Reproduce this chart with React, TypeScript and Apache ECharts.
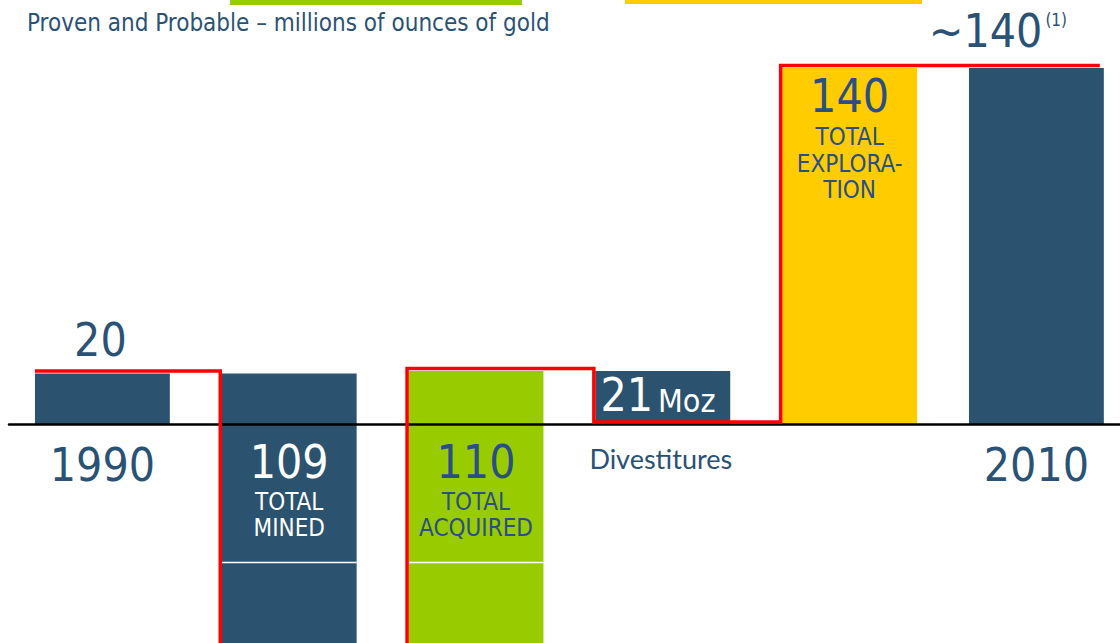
import React, { useEffect, useRef } from "react";
import * as echarts from "echarts";

// ---------- data ----------
const categories = ["1990", "Mined", "Acquired", "Divestitures", "Exploration", "2010"];
const changes = [20, -109, 110, -21, 140, 140];
const isTotal = [true, false, false, false, false, true];
const valueLabels = ["20", "109", "110", "21", "140", "~140"];
const captionLines: string[][] = [[], ["TOTAL", "MINED"], ["TOTAL", "ACQUIRED"], [], ["TOTAL", "EXPLORA-", "TION"], []];
const axisNames = ["1990", "", "", "Divestitures", "", "2010"];
const unitLabel = "Moz";
const footnoteMark = "(1)";
const breakLevel = -54;
const subtitle = "Proven and Probable \u2013 millions of ounces of gold";
const yMin = -100;
const yMax = 150;

// ---------- styles ----------
const DARK = "#2B526E";
const GREEN = "#99CC00";
const YELLOW = "#FFCC00";
const RED = "#FF0000";
const TEXT = "#2A5275";
const INNER_BLUE = "#2A4F85";
const FONT = "'DejaVu Sans Condensed', 'Liberation Sans', sans-serif";
const barColors = [DARK, DARK, GREEN, DARK, YELLOW, DARK];
const innerTextColors = ["", "#FFFFFF", INNER_BLUE, "#FFFFFF", INNER_BLUE, ""];
const BAR_FRAC = 0.722;
const NUM = 46;

// chart canvas is larger than the visible page; the page crops it
const CW = 1140;
const CH = 700;

// spans derived from the changes
const spans: number[][] = [];
const levels: number[] = [];
{
  let run = 0;
  changes.forEach((c, i) => {
    if (isTotal[i]) {
      spans.push([i, 0, c]);
      run = c;
    } else {
      spans.push([i, run, run + c]);
      run = run + c;
    }
    levels.push(run);
  });
}

function txt(x: number, y: number, text: string, size: number, fill: string, align = "center", family = FONT) {
  return {
    type: "text",
    x,
    y,
    z2: 10,
    style: { text, x: 0, y: 0, fill, fontSize: size, fontFamily: family, align, verticalAlign: "middle" },
  };
}

const option: any = {
  animation: false,
  backgroundColor: "#FFFFFF",
  grid: { left: 9, right: 10.2, top: 42.6, bottom: 20.9, containLabel: false },
  xAxis: {
    type: "category",
    data: categories,
    z: 5,
    axisLine: { show: true, onZero: true, lineStyle: { color: "#000000", width: 2.5 } },
    axisTick: { show: false },
    axisLabel: { show: false },
    splitLine: { show: false },
  },
  yAxis: {
    type: "value",
    min: yMin,
    max: yMax,
    axisLine: { show: false },
    axisTick: { show: false },
    axisLabel: { show: false },
    splitLine: { show: false },
  },
  graphic: [
    { type: "rect", left: 230, top: 0, shape: { width: 292, height: 5 }, style: { fill: GREEN } },
    { type: "rect", left: 625, top: 0, shape: { width: 297, height: 4 }, style: { fill: YELLOW } },
    {
      type: "text",
      x: 27,
      y: 23,
      style: { text: subtitle, fill: TEXT, fontSize: 24, fontFamily: FONT, verticalAlign: "middle", align: "left" },
    },
  ],
  series: [
    {
      type: "custom",
      z: 1,
      data: spans,
      encode: { x: 0, y: [1, 2] },
      renderItem: (params: any, api: any) => {
        const i = params.dataIndex;
        const start = api.value(1);
        const end = api.value(2);
        const band = api.size([1, 0])[0];
        const w = band * BAR_FRAC;
        const cx = api.coord([i, 0])[0];
        const zeroY = api.coord([i, 0])[1];
        const ya = api.coord([i, start])[1];
        const yb = api.coord([i, end])[1];
        const top = Math.min(ya, yb);
        const bottom = Math.max(ya, yb);
        const children: any[] = [
          { type: "rect", shape: { x: cx - w / 2, y: top, width: w, height: bottom - top }, style: { fill: barColors[i] } },
        ];
        const lo = Math.min(start, end);
        const hi = Math.max(start, end);
        if (!isTotal[i] && lo < breakLevel && hi > breakLevel && captionLines[i].length) {
          const by = Math.round(api.coord([i, breakLevel])[1]) + 0.5;
          children.push({
            type: "line",
            shape: { x1: cx - w / 2, y1: by, x2: cx + w / 2, y2: by },
            style: { stroke: "#FFFFFF", lineWidth: 1.5 },
          });
        }
        // axis name under the zero line
        if (axisNames[i]) {
          if (i === 3) children.push(txt(cx - 2, zeroY + 34, axisNames[i], 27, TEXT, "center", "Lato, 'Noto Sans', sans-serif"));
          else children.push(txt(cx, zeroY + 40, axisNames[i], NUM, TEXT));
        }
        const lab = valueLabels[i];
        if (i === 0) {
          children.push(txt(cx - 2, top - 34, lab, NUM, TEXT));
        } else if (i === 5) {
          children.push(txt(cx + 6, top - 37, lab, NUM, TEXT, "right"));
          children.push(txt(cx + 9, top - 48, footnoteMark, 17, TEXT, "left"));
        } else if (i === 3) {
          children.push(txt(cx - 36, zeroY - 30, lab, NUM, innerTextColors[i]));
          children.push(txt(cx + 24, zeroY - 24, unitLabel, 32, innerTextColors[i]));
        } else if (i === 4) {
          children.push(txt(cx, top + 28, lab, NUM, innerTextColors[i]));
          captionLines[i].forEach((line, k) => {
            children.push(txt(cx, top + 69 + k * 26.5, line, 24, innerTextColors[i]));
          });
        } else {
          children.push(txt(cx, zeroY + 37, lab, NUM, innerTextColors[i]));
          captionLines[i].forEach((line, k) => {
            children.push(txt(cx, zeroY + 77.5 + k * 26, line, 24, innerTextColors[i]));
          });
        }
        return { type: "group", children };
      },
    },
    {
      type: "custom",
      z: 10,
      data: [[0, levels[0]]],
      encode: { x: 0, y: 1 },
      renderItem: (params: any, api: any) => {
        const band = api.size([1, 0])[0];
        const w = band * BAR_FRAC;
        const left = (k: number) => api.coord([k, 0])[0] - w / 2;
        const right = (k: number) => api.coord([k, 0])[0] + w / 2;
        const yOf = (v: number) => api.coord([0, v])[1] - 2.5;
        const pts: number[][] = [[left(0), yOf(levels[0])]];
        for (let k = 1; k < categories.length; k++) {
          if (isTotal[k]) {
            pts.push([right(k) - 4, yOf(levels[k - 1])]);
          } else {
            pts.push([left(k) - 1.5, yOf(levels[k - 1])]);
            pts.push([left(k) - 1.5, yOf(levels[k])]);
          }
        }
        return {
          type: "polyline",
          shape: { points: pts },
          style: { stroke: RED, lineWidth: 3.5, fill: "none", lineJoin: "miter" },
        };
      },
    },
  ],
};

export default function App() {
  const ref = useRef<HTMLDivElement>(null);
  useEffect(() => {
    document.body.style.margin = "0";
    document.body.style.overflow = "hidden";
    const chart = echarts.init(ref.current as HTMLDivElement, null, { renderer: "svg" });
    chart.setOption(option);
    return () => chart.dispose();
  }, []);
  return (
    <div style={{ width: 1120, height: 643, overflow: "hidden", position: "relative" }}>
      <div ref={ref} style={{ width: CW, height: CH }} />
    </div>
  );
}
